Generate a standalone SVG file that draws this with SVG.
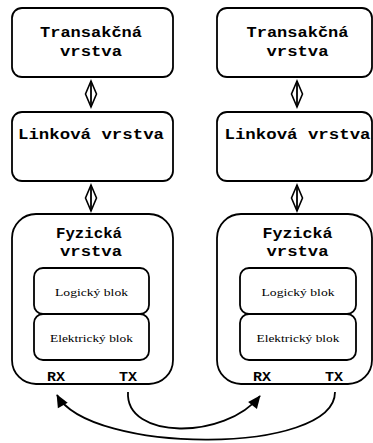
<svg xmlns="http://www.w3.org/2000/svg" width="373" height="443" viewBox="0 0 373 443">
<defs>
<style>
.box{fill:#fff;stroke:#000;stroke-width:1.8}
.h{font-family:"Liberation Mono","Courier New",monospace;font-weight:bold;font-size:14px;fill:#000;text-anchor:middle}
.p{font-family:"Liberation Mono","Courier New",monospace;font-weight:bold;font-size:12px;fill:#000;text-anchor:middle}
.s{font-family:"Liberation Serif","Times New Roman",serif;font-size:11px;fill:#000;text-anchor:middle}
.c{fill:none;stroke:#000;stroke-width:1.8}
.d{fill:#fff;stroke:#000;stroke-width:1.6}
</style>
<marker id="ah" viewBox="0 0 10 10" refX="9" refY="5" markerWidth="8" markerHeight="8" markerUnits="userSpaceOnUse" orient="auto" overflow="visible">
<path d="M-6,-2 L10,5 L-6,12 Z" fill="#000"/>
</marker>
</defs>
<g id="left-transakcna">
<rect class="box" x="12" y="8" width="161" height="69" rx="10"/>
<text class="h" x="91" y="37" textLength="102" lengthAdjust="spacingAndGlyphs">Transakčná</text>
<text class="h" x="91" y="56" textLength="62" lengthAdjust="spacingAndGlyphs">vrstva</text>
</g>
<g id="left-linkova">
<rect class="box" x="12" y="112" width="161" height="69" rx="10"/>
<text class="h" x="91" y="139" textLength="146" lengthAdjust="spacingAndGlyphs">Linková vrstva</text>
</g>
<g id="left-fyzicka">
<rect class="box" x="12" y="214" width="161" height="170" rx="24"/>
<text class="h" x="89" y="238" textLength="66" lengthAdjust="spacingAndGlyphs">Fyzická</text>
<text class="h" x="91" y="256" textLength="62" lengthAdjust="spacingAndGlyphs">vrstva</text>
<g id="left-logicky">
<rect class="box" x="34" y="268" width="115" height="46" rx="9"/>
<text class="s" x="91.5" y="296" textLength="73" lengthAdjust="spacingAndGlyphs">Logický blok</text>
</g>
<g id="left-elektricky">
<rect class="box" x="34" y="314" width="115" height="46" rx="9"/>
<text class="s" x="91.5" y="342" textLength="83" lengthAdjust="spacingAndGlyphs">Elektrický blok</text>
</g>
<text class="p" x="56" y="381" textLength="18" lengthAdjust="spacingAndGlyphs">RX</text>
<text class="p" x="128" y="381" textLength="18" lengthAdjust="spacingAndGlyphs">TX</text>
</g>
<g id="right-transakcna">
<rect class="box" x="217" y="8" width="155" height="69" rx="10"/>
<text class="h" x="297.5" y="37" textLength="102" lengthAdjust="spacingAndGlyphs">Transakčná</text>
<text class="h" x="297.5" y="56" textLength="62" lengthAdjust="spacingAndGlyphs">vrstva</text>
</g>
<g id="right-linkova">
<rect class="box" x="217" y="112" width="155" height="69" rx="10"/>
<text class="h" x="297.5" y="139" textLength="146" lengthAdjust="spacingAndGlyphs">Linková vrstva</text>
</g>
<g id="right-fyzicka">
<rect class="box" x="217" y="214" width="155" height="170" rx="24"/>
<text class="h" x="297.5" y="238" textLength="70" lengthAdjust="spacingAndGlyphs">Fyzická</text>
<text class="h" x="297.5" y="256" textLength="62" lengthAdjust="spacingAndGlyphs">vrstva</text>
<g id="right-logicky">
<rect class="box" x="240" y="268" width="116" height="46" rx="9"/>
<text class="s" x="298" y="296" textLength="73" lengthAdjust="spacingAndGlyphs">Logický blok</text>
</g>
<g id="right-elektricky">
<rect class="box" x="240" y="314" width="116" height="46" rx="9"/>
<text class="s" x="298" y="342" textLength="83" lengthAdjust="spacingAndGlyphs">Elektrický blok</text>
</g>
<text class="p" x="262" y="381" textLength="18" lengthAdjust="spacingAndGlyphs">RX</text>
<text class="p" x="334" y="381" textLength="18" lengthAdjust="spacingAndGlyphs">TX</text>
</g>
<g id="connectors">
<polygon class="d" points="91,81 96.5,94 91,107 85.5,94"/>
<line class="c" x1="91" y1="81" x2="91" y2="107"/>
<polygon class="d" points="91,185 96.5,198 91,211 85.5,198"/>
<line class="c" x1="91" y1="185" x2="91" y2="211"/>
<polygon class="d" points="297,81 302.5,94 297,107 291.5,94"/>
<line class="c" x1="297" y1="81" x2="297" y2="107"/>
<polygon class="d" points="297,185 302.5,198 297,211 291.5,198"/>
<line class="c" x1="297" y1="185" x2="297" y2="211"/>
<path class="c" d="M128,392 C125,440 225,440 260,396" marker-end="url(#ah)"/>
<path class="c" d="M335,392 C335,455 90,455 57,395" marker-end="url(#ah)"/>
</g>
</svg>
